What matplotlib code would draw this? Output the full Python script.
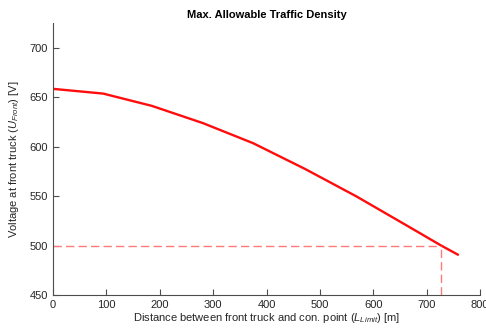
import matplotlib
matplotlib.use("Agg")
import matplotlib.pyplot as plt

# Distance between front truck and connection point [m] and voltage at front truck [V]
distance_m = [0, 94, 185, 281, 375, 472, 568, 665, 727, 760]
voltage_v = [658.5, 653.7, 641.3, 623.8, 603.5, 577.5, 549.8, 519.5, 500.0, 490.3]

# Voltage limit and resulting maximum distance
u_limit = 500
l_limit = 727

x_ticks = [0, 100, 200, 300, 400, 500, 600, 700, 800]
y_ticks = [450, 500, 550, 600, 650, 700]

plt.rcParams['font.family'] = ['Liberation Sans', 'DejaVu Sans']
plt.rcParams['mathtext.fontset'] = 'custom'
plt.rcParams['mathtext.rm'] = 'Liberation Sans'
plt.rcParams['mathtext.it'] = 'Liberation Sans:italic'

axis_color = '#4d4d4d'
text_color = '#262626'

fig = plt.figure(figsize=(4.86, 3.28), dpi=100)
ax = fig.add_axes([0.109, 0.1006, 0.879, 0.829])

ax.plot(distance_m, voltage_v, color='#ff0d0d', linewidth=1.7, solid_capstyle='butt')
ax.plot([0, l_limit], [u_limit, u_limit], color='#ff7a7a', linewidth=1.0, dashes=(6, 3))
ax.plot([l_limit, l_limit], [450, u_limit], color='#ff7a7a', linewidth=1.0, dashes=(6, 3))

ax.set_xlim(0, 800)
ax.set_ylim(450, 725)
ax.set_xticks(x_ticks)
ax.set_yticks(y_ticks)

for side in ('top', 'right'):
    ax.spines[side].set_visible(False)
for side in ('left', 'bottom'):
    ax.spines[side].set_color(axis_color)
    ax.spines[side].set_linewidth(0.8)

ax.tick_params(direction='in', length=4, width=0.8, colors=axis_color,
               labelcolor=text_color, labelsize=8)

ax.set_title('Max. Allowable Traffic Density', fontsize=8, fontweight='bold',
             color='black', pad=4)
ax.set_xlabel(r'Distance between front truck and con. point ($L_{Limit}$) [m]',
              fontsize=8, color=text_color, labelpad=1)
ax.set_ylabel(r'Voltage at front truck ($U_{Front}$) [V]',
              fontsize=8, color=text_color, labelpad=6)

fig.savefig('out.png', dpi=100)
